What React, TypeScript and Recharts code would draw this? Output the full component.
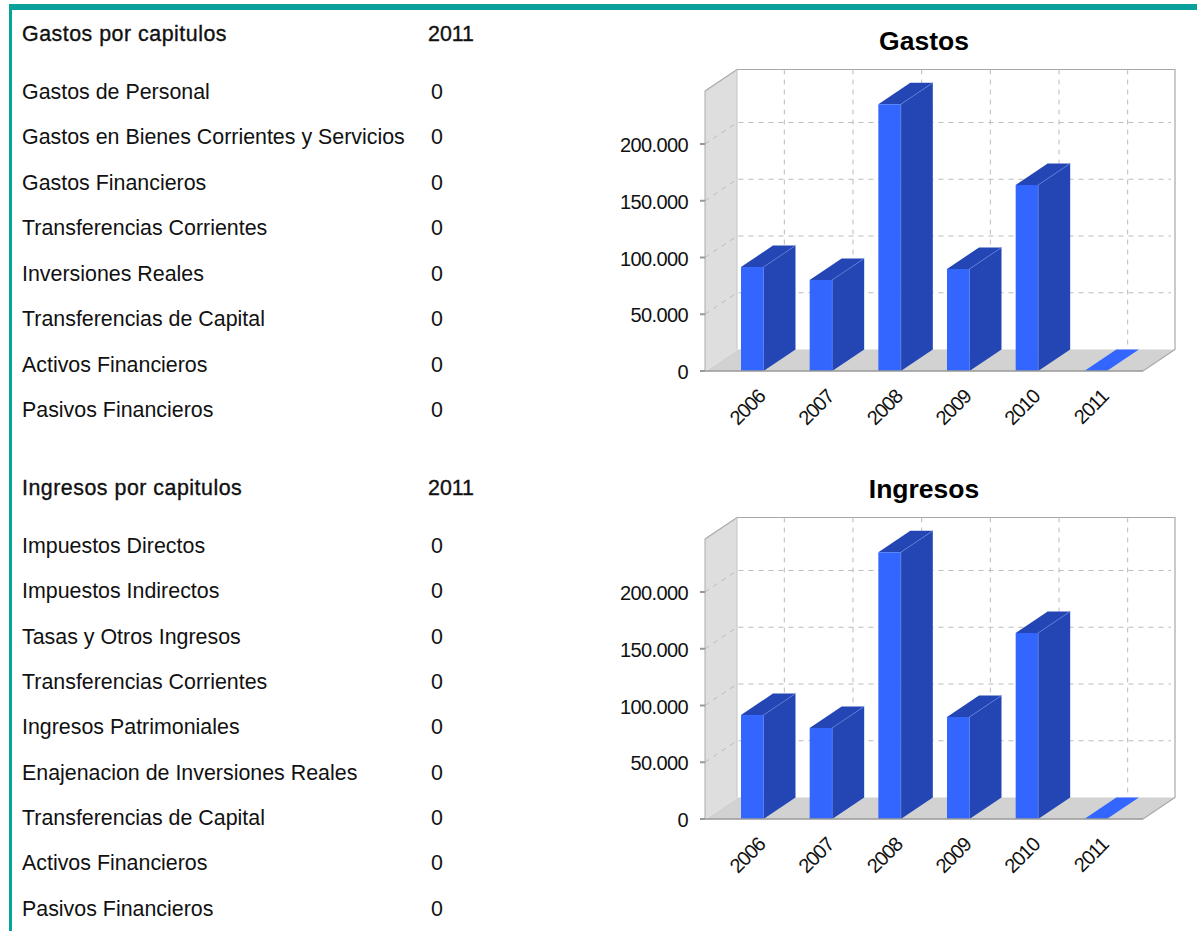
import { BarChart, Bar, XAxis, YAxis, CartesianGrid, ReferenceArea } from 'recharts';

const years = ['2006', '2007', '2008', '2009', '2010', '2011'];
const gastosValues = [91600, 80200, 235000, 89900, 163900, 0];
const ingresosValues = [91600, 80200, 235000, 89900, 163900, 0];
const yTicks = [0, 50000, 100000, 150000, 200000];

const gastosLabels = [
  'Gastos de Personal',
  'Gastos en Bienes Corrientes y Servicios',
  'Gastos Financieros',
  'Transferencias Corrientes',
  'Inversiones Reales',
  'Transferencias de Capital',
  'Activos Financieros',
  'Pasivos Financieros',
];
const gastosRowTops = [92, 137, 183, 228, 274, 319, 365, 410];

const ingresosLabels = [
  'Impuestos Directos',
  'Impuestos Indirectos',
  'Tasas y Otros Ingresos',
  'Transferencias Corrientes',
  'Ingresos Patrimoniales',
  'Enajenacion de Inversiones Reales',
  'Transferencias de Capital',
  'Activos Financieros',
  'Pasivos Financieros',
];
const ingresosRowTops = [546, 591, 637, 682, 727, 773, 818, 863, 909];

const FONT = '"Liberation Sans", Arial, sans-serif';
const DEPTH_X = 32;
const DEPTH_Y = 21.5;
const GRID = '#bcbcbc';
const EDGE = '#a8a8a8';
const X_PAD = 13;
const PLOT_LEFT = 95;
const PLOT_RIGHT = 533;
const PLOT_TOP = 71;
const PLOT_BOTTOM = 351;

const formatTick = (v: number) => String(v).replace(/\B(?=(\d{3})+$)/g, '.');

function Walls({ x, y, width, height }: any) {
  const left = x - X_PAD;
  const bottom = y + height;
  const right = x + width + X_PAD;
  return (
    <g>
      <polygon
        points={`${left},${y} ${left + DEPTH_X},${y - DEPTH_Y} ${left + DEPTH_X},${bottom - DEPTH_Y} ${left},${bottom}`}
        fill="#dedede"
      />
      <polygon
        points={`${left},${bottom} ${left + DEPTH_X},${bottom - DEPTH_Y} ${right + DEPTH_X},${bottom - DEPTH_Y} ${right},${bottom}`}
        fill="#d2d2d2"
      />
      <path
        d={`M${left},${y} L${left + DEPTH_X},${y - DEPTH_Y} L${right + DEPTH_X},${y - DEPTH_Y} L${right + DEPTH_X},${bottom - DEPTH_Y} L${right},${bottom}`}
        fill="none"
        stroke={EDGE}
        strokeWidth={1.2}
      />
      <line x1={left + DEPTH_X} y1={y - DEPTH_Y} x2={left + DEPTH_X} y2={bottom - DEPTH_Y} stroke="#c4c4c4" />
      <line x1={left} y1={bottom} x2={left + DEPTH_X} y2={bottom - DEPTH_Y} stroke="#e4e4e4" />
    </g>
  );
}

function GridH({ x1, x2, y1 }: any) {
  if (y1 >= PLOT_BOTTOM - 1 || y1 <= PLOT_TOP + 1) return <g />;
  return (
    <path
      d={`M${x1},${y1} L${x1 + DEPTH_X},${y1 - DEPTH_Y} L${x2 + DEPTH_X - 4},${y1 - DEPTH_Y}`}
      fill="none"
      stroke={GRID}
      strokeDasharray="5 5"
    />
  );
}

function GridV({ x1, y1, y2 }: any) {
  if (x1 <= PLOT_LEFT + 1 || x1 >= PLOT_RIGHT - 1) return <g />;
  return (
    <line
      x1={x1 + DEPTH_X}
      x2={x1 + DEPTH_X}
      y1={y1 - DEPTH_Y}
      y2={y2 - DEPTH_Y}
      stroke={GRID}
      strokeDasharray="5 5"
    />
  );
}

function Box3D({ x, y, width, height }: any) {
  const right = x + width;
  const bottom = y + height;
  const flat = height < 0.5;
  return (
    <g>
      <polygon
        points={`${right},${y} ${right + DEPTH_X},${y - DEPTH_Y} ${right + DEPTH_X},${bottom - DEPTH_Y} ${right},${bottom}`}
        fill="#2346b4"
      />
      <polygon
        points={`${x},${y} ${x + DEPTH_X},${y - DEPTH_Y} ${right + DEPTH_X},${y - DEPTH_Y} ${right},${y}`}
        fill={flat ? '#3366ff' : '#2346b4'}
      />
      <rect x={x} y={y} width={width} height={height} fill="#3366ff" />
      {!flat && (
        <path
          d={`M${right},${bottom} L${right},${y} L${right + DEPTH_X},${y - DEPTH_Y}`}
          fill="none"
          stroke="#5f80e0"
          strokeWidth={0.7}
        />
      )}
    </g>
  );
}

function YearTick({ x, y, payload }: any) {
  return (
    <text
      x={x + 14}
      y={y + 19}
      textAnchor="end"
      fontFamily={FONT}
      fontSize={20}
      letterSpacing={-1.1}
      fill="#111"
      transform={`rotate(-45 ${x + 14} ${y + 19})`}
    >
      {payload.value}
    </text>
  );
}

function Chart3D({ title, values, top }: { title: string; values: number[]; top: number }) {
  const data = years.map((year, i) => ({ year, value: values[i] }));
  return (
    <div style={{ position: 'absolute', left: 610, top, width: 580, height: 430 }}>
      <div
        style={{
          position: 'absolute',
          left: 0,
          width: 628,
          top: 6,
          textAlign: 'center',
          fontFamily: FONT,
          fontWeight: 'bold',
          fontSize: 26.5,
          lineHeight: '30px',
          color: '#000',
        }}
      >
        {title}
      </div>
      <BarChart
        width={580}
        height={430}
        data={data}
        margin={{ top: PLOT_TOP, right: 580 - PLOT_RIGHT, bottom: 0, left: 0 }}
        barSize={22.5}
        style={{ position: 'absolute', left: 0, top: 0 }}
      >
        <ReferenceArea ifOverflow="visible" shape={Walls} zIndex={-200} fill="none" />
        <CartesianGrid horizontal={GridH} vertical={GridV} />
        <XAxis
          dataKey="year"
          height={430 - PLOT_BOTTOM}
          padding={{ left: X_PAD, right: X_PAD }}
          tickLine={false}
          axisLine={{ stroke: '#999', strokeWidth: 1.5 }}
          tick={YearTick}
          interval={0}
        />
        <YAxis
          width={PLOT_LEFT}
          domain={[0, 246700]}
          ticks={yTicks}
          tickFormatter={formatTick}
          tickSize={5}
          tickMargin={12}
          tickLine={{ stroke: '#999', strokeWidth: 2 }}
          axisLine={{ stroke: '#aaa', strokeWidth: 1 }}
          tick={{ fontFamily: FONT, fontSize: 20, fill: '#111', letterSpacing: -0.6, dy: 1 }}
        />
        <Bar dataKey="value" shape={Box3D} isAnimationActive={false} />
      </BarChart>
    </div>
  );
}

function Row({ label, value, top, bold }: { label: string; value: string; top: number; bold?: boolean }) {
  const common = {
    position: 'absolute' as const,
    top: top - 13,
    lineHeight: '26px',
    fontSize: 21.4,
    whiteSpace: 'nowrap' as const,
    color: '#111',
    fontFamily: FONT,
    WebkitTextStroke: bold ? '0.35px #111' : undefined,
  };
  return (
    <>
      <div style={{ ...common, left: 22, letterSpacing: bold ? 0.5 : 0 }}>{label}</div>
      <div style={{ ...common, left: bold ? 428 : 431 }}>{value}</div>
    </>
  );
}

export default function App() {
  return (
    <div style={{ position: 'absolute', left: 0, top: 0, width: 1197, height: 931, overflow: 'hidden', background: '#fff' }}>
      <div style={{ position: 'absolute', left: 9, top: 4, right: 0, height: 6, background: '#0aa09c' }} />
      <div style={{ position: 'absolute', left: 9, top: 4, bottom: 0, width: 2.5, background: '#0aa09c' }} />

      <Row label="Gastos por capitulos" value="2011" top={34} bold />
      {gastosLabels.map((label, i) => (
        <Row key={label} label={label} value="0" top={gastosRowTops[i]} />
      ))}
      <Row label="Ingresos por capitulos" value="2011" top={488} bold />
      {ingresosLabels.map((label, i) => (
        <Row key={label} label={label} value="0" top={ingresosRowTops[i]} />
      ))}

      <Chart3D title="Gastos" values={gastosValues} top={20} />
      <Chart3D title="Ingresos" values={ingresosValues} top={468} />
    </div>
  );
}
